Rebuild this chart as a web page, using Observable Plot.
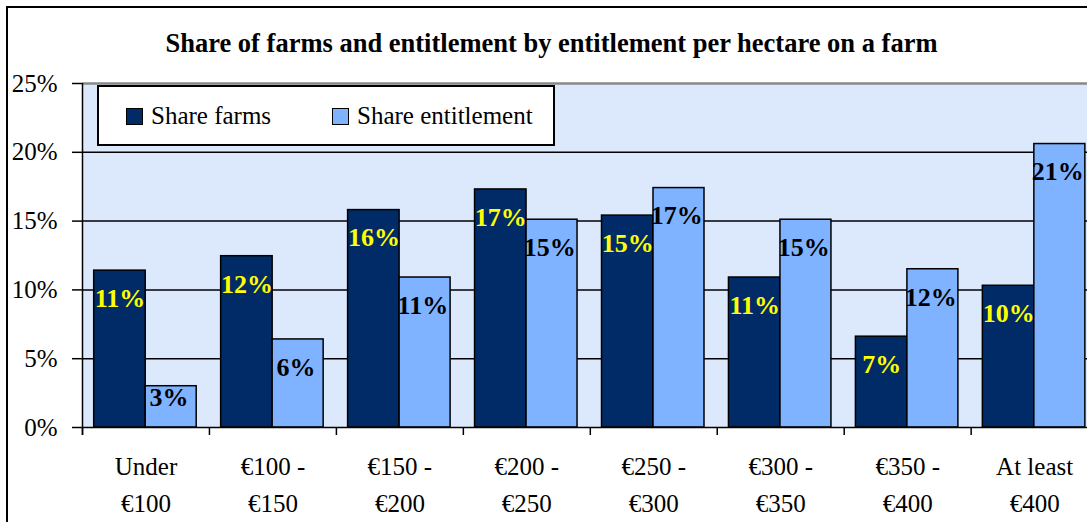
<!DOCTYPE html>
<html>
<head>
<meta charset="utf-8">
<script src="https://cdn.jsdelivr.net/npm/d3@7"></script>
<script src="https://cdn.jsdelivr.net/npm/@observablehq/plot@0.6"></script>
<style>
  html, body { margin: 0; padding: 0; background: #fff; overflow: hidden; }
  #wrap { position: relative; width: 1087px; height: 522px; overflow: hidden; font-family: "Liberation Serif", "Times New Roman", serif; }
  #border { position: absolute; left: 6px; top: 6px; width: 2000px; height: 2000px; border-left: 2px solid #000; border-top: 2px solid #000; pointer-events: none; }
  #title { position: absolute; left: 0; width: 1103px; top: 28px; text-align: center; font-weight: bold; font-size: 26.5px; line-height: 30px; color: #000; white-space: nowrap; }
  #legend { position: absolute; left: 97px; top: 85px; width: 454px; height: 57px; border: 2px solid #000; background: #fff; }
  .item { position: absolute; top: 0; height: 57px; display: flex; align-items: center; font-size: 25px; color: #000; white-space: nowrap; }
  .sw { width: 15px; height: 15px; border: 1.5px solid #000; margin-right: 8px; margin-top: 2px; }
  svg { position: absolute; left: 0; top: 0; }
</style>
</head>
<body>
<div id="wrap">
  <div id="chart"></div>
  <div id="legend"></div>
  <div id="title"></div>
  <div id="border"></div>
</div>
<script>
const title = "Share of farms and entitlement by entitlement per hectare on a farm";
const categories = ["Under\n€100", "€100 -\n€150", "€150 -\n€200", "€200 -\n€250", "€250 -\n€300", "€300 -\n€350", "€350 -\n€400", "At least\n€400"];
const seriesNames = ["Share farms", "Share entitlement"];
const shareFarms = [11.4, 12.45, 15.8, 17.3, 15.4, 10.9, 6.6, 10.3];
const shareEntitlement = [3.0, 6.4, 10.9, 15.1, 17.4, 15.1, 11.5, 20.6];
const yTicks = [0, 5, 10, 15, 20, 25];
const gridTicks = [5, 10, 15, 20];

const colors = {farms: "#002b66", ent: "#80b3ff", bg: "#dce9fc"};

const farmsData = categories.map((c, i) => ({cat: c, value: shareFarms[i]}));
const entData = categories.map((c, i) => ({cat: c, value: shareEntitlement[i]}));

const W = 1087, H = 522, mL = 82, mR = -10.6, mT = 83, mB = 95;
const step = (W - mL - mR) / categories.length;

const labelY = d => Math.max(d.value - 2.04, 2.14);
const fmt = d => Math.round(d.value) + "%";

const chart = Plot.plot({
  width: W,
  height: H,
  marginLeft: mL,
  marginRight: mR,
  marginTop: mT,
  marginBottom: mB,
  style: {fontFamily: "'Liberation Serif', 'Times New Roman', serif", fontSize: "25px", color: "#000", background: "transparent", overflow: "visible"},
  x: {type: "band", domain: categories, padding: 0, round: false},
  y: {domain: [0, 25]},
  marks: [
    Plot.frame({fill: colors.bg, stroke: null}),
    Plot.ruleY(gridTicks, {stroke: "#000", strokeWidth: 1.5}),
    Plot.ruleY([25], {stroke: "#888", strokeWidth: 2.5}),
    Plot.rectY(farmsData, {x: "cat", y: "value", fill: colors.farms, stroke: "#000", strokeWidth: 1.5, insetLeft: 11.7, insetRight: step - 63.2}),
    Plot.rectY(entData, {x: "cat", y: "value", fill: colors.ent, stroke: "#000", strokeWidth: 1.5, insetLeft: 63.2, insetRight: step - 63.2 - 51}),
    Plot.ruleY([0], {stroke: "#000", strokeWidth: 1.5}),
    Plot.ruleX(categories, {x: d => d, dx: -step / 2, y1: 0, y2: -0.58, stroke: "#000", strokeWidth: 1.5}),
    Plot.ruleX([categories[0]], {x: d => d, dx: -step / 2, y1: -0.58, y2: 25, stroke: "#000", strokeWidth: 1.5}),
    Plot.axisY({ticks: yTicks, tickSize: 10, tickPadding: 15, tickFormat: d => d + "%", label: null, fontSize: 25, strokeWidth: 1.5}),
    Plot.axisX({tickSize: 0, tickPadding: 22, label: null, fontSize: 25, lineHeight: 1.46}),
    Plot.text(farmsData, {x: "cat", y: labelY, text: fmt, dx: -26, fill: "#ffff00", fontWeight: "bold", fontSize: 26}),
    Plot.text(entData, {x: "cat", y: labelY, text: fmt, dx: 23, fill: "#000", fontWeight: "bold", fontSize: 26})
  ]
});
document.getElementById("chart").appendChild(chart);

document.getElementById("title").textContent = title;
const legend = document.getElementById("legend");
const lpos = [27, 233];
const lcol = [colors.farms, colors.ent];
seriesNames.forEach((name, i) => {
  const it = document.createElement("div");
  it.className = "item";
  it.style.left = lpos[i] + "px";
  const sw = document.createElement("div");
  sw.className = "sw";
  sw.style.background = lcol[i];
  const tx = document.createElement("span");
  tx.textContent = name;
  it.appendChild(sw);
  it.appendChild(tx);
  legend.appendChild(it);
});
</script>
</body>
</html>
